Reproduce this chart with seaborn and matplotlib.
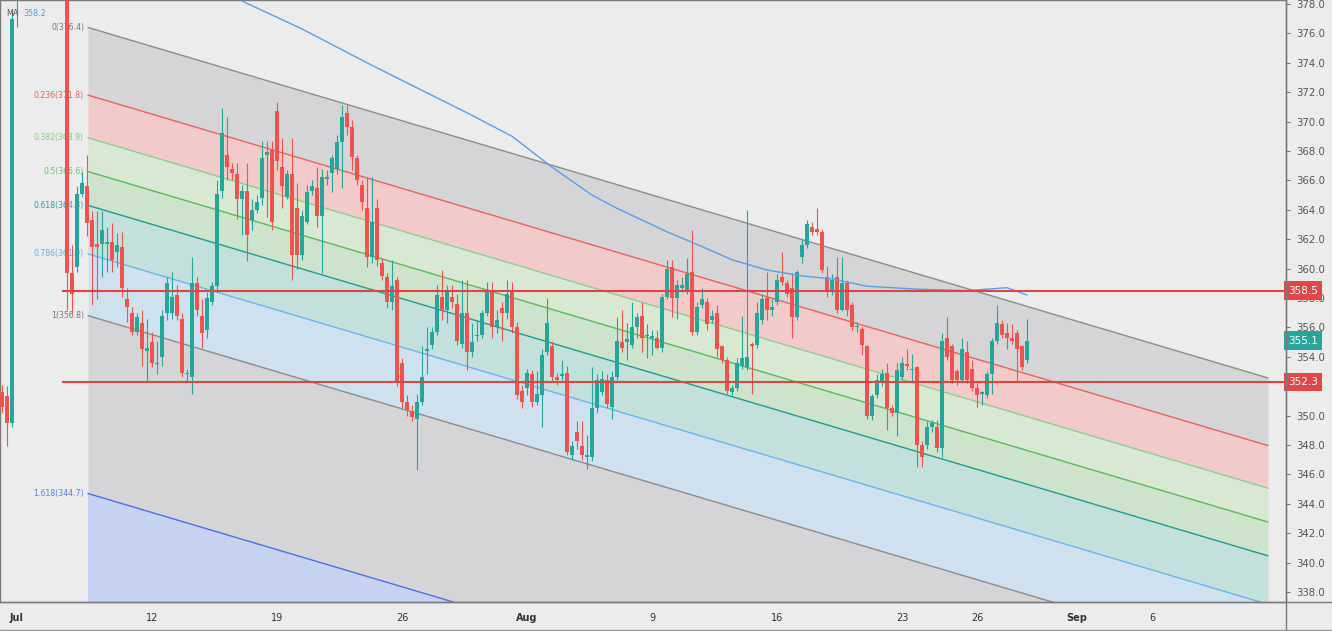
import numpy as np
import pandas as pd
import seaborn as sns
import matplotlib.pyplot as plt
from matplotlib.lines import Line2D
from matplotlib.transforms import blended_transform_factory

# ---- values ----
# bar index: 5 bars per trading day, bar 0 = first bar after the gap
pre_idx = [-13, -12, -11, -10]
pre_open = [351.6, 351.3, 349.5, 379.0]
pre_high = [352.1, 352.0, 377.5, 382.0]
pre_low = [350.2, 347.9, 349.2, 376.4]
pre_close = [350.6, 349.5, 377.0, 381.0]

bar_open = [
    379.6, 359.7, 360.1, 365.1, 365.6, 363.3, 361.7, 361.7, 361.7, 361.8,
    361.1, 361.5, 357.9, 357.0, 355.7, 356.3, 354.4, 355.0, 353.5, 354.0,
    357.0, 357.0, 358.2, 356.6, 352.8, 352.6, 359.0, 356.8, 355.8, 357.7,
    358.8, 365.3, 367.7, 366.8, 366.4, 364.7, 365.3, 363.3, 364.0, 364.8,
    367.7, 368.1, 370.7, 366.9, 364.9, 366.4, 364.1, 360.9, 363.2, 365.3,
    365.5, 363.6, 366.1, 366.5, 366.8, 368.6, 370.6, 369.6, 367.5, 365.7,
    364.1, 360.8, 364.1, 360.4, 359.4, 357.7, 359.2, 353.6, 350.9, 350.3,
    349.8, 350.9, 354.4, 354.8, 355.7, 358.1, 357.2, 358.1, 357.6, 354.9,
    357.0, 354.3, 355.4, 355.5, 357.0, 358.5, 356.0, 357.3, 357.0, 358.4,
    356.0, 351.7, 351.9, 352.8, 350.9, 351.4, 354.3, 354.7, 352.6, 352.7,
    352.9, 347.3, 348.9, 347.9, 347.2, 347.2, 350.5, 351.6, 352.4, 350.6,
    352.6, 355.0, 355.0, 354.8, 356.0, 356.8, 355.4, 355.3, 355.3, 354.6,
    358.1, 360.1, 358.0, 358.7, 358.5, 359.8, 355.7, 357.5, 357.7, 356.5,
    357.0, 354.7, 353.8, 351.6, 351.9, 353.4, 353.3, 354.9, 354.8, 356.5,
    358.0, 357.2, 357.7, 359.4, 359.0, 358.7, 356.7, 360.8, 361.6, 362.8,
    362.7, 362.5, 359.4, 358.4, 359.4, 357.2, 359.0, 357.5, 356.0, 355.9,
    354.7, 350.0, 351.4, 352.2, 352.9, 350.5, 350.2, 352.6, 353.5, 353.1,
    353.3, 348.0, 348.0, 349.2, 349.2, 347.8, 355.3, 354.7, 353.0, 352.4,
    354.3, 353.2, 351.9, 351.5, 351.4, 352.8, 355.1, 356.2, 355.6, 355.3,
    355.6, 354.7, 353.8]
bar_high = [
    380.3, 361.6, 365.6, 366.6, 367.7, 363.9, 363.9, 363.9, 362.8, 363.1,
    362.4, 362.5, 358.7, 357.4, 357.0, 357.2, 356.6, 355.7, 355.1, 357.2,
    359.4, 359.8, 358.9, 357.0, 353.2, 360.8, 359.4, 357.9, 358.4, 359.1,
    366.0, 370.9, 370.3, 367.2, 367.2, 365.7, 367.2, 364.7, 365.0, 368.7,
    368.7, 368.7, 371.3, 368.9, 366.7, 368.9, 365.8, 364.0, 365.7, 366.0,
    366.9, 366.8, 366.7, 367.7, 369.1, 371.1, 371.1, 370.1, 367.7, 366.0,
    366.2, 366.2, 364.7, 360.7, 359.7, 360.6, 359.4, 353.9, 351.4, 350.7,
    351.5, 354.7, 356.0, 356.0, 358.9, 359.9, 358.9, 358.9, 358.3, 359.2,
    359.2, 356.3, 356.5, 357.2, 359.1, 359.1, 357.2, 357.7, 359.2, 359.1,
    356.4, 352.1, 353.2, 353.1, 353.0, 354.5, 358.0, 355.1, 352.9, 353.8,
    353.4, 348.3, 349.6, 349.6, 348.7, 353.3, 352.8, 353.0, 352.8, 353.0,
    356.7, 357.2, 356.3, 357.7, 357.0, 357.7, 356.2, 355.8, 355.8, 358.3,
    360.6, 360.6, 359.2, 359.4, 360.7, 362.6, 357.7, 358.7, 358.0, 357.2,
    357.5, 354.8, 354.0, 352.1, 353.9, 356.8, 364.0, 355.0, 357.7, 358.2,
    359.8, 357.9, 359.6, 361.1, 359.2, 359.7, 359.9, 362.0, 363.3, 363.2,
    364.1, 362.6, 360.2, 359.6, 360.8, 360.8, 359.2, 357.7, 356.4, 356.0,
    354.8, 351.5, 352.8, 353.2, 353.6, 350.7, 353.6, 354.0, 354.5, 354.2,
    353.4, 348.3, 349.6, 349.7, 349.7, 355.6, 356.7, 354.9, 353.2, 355.3,
    355.1, 353.8, 352.2, 351.7, 353.0, 355.3, 357.5, 356.5, 356.3, 356.2,
    355.8, 354.8, 356.6]
bar_low = [
    357.2, 357.0, 359.8, 364.9, 362.2, 357.5, 357.9, 359.4, 359.8, 359.8,
    360.1, 358.1, 356.4, 355.5, 355.5, 353.4, 352.3, 353.3, 352.8, 353.4,
    356.5, 356.6, 356.5, 352.6, 352.3, 351.5, 356.8, 354.6, 355.3, 357.5,
    358.4, 364.8, 366.0, 366.0, 363.4, 362.3, 360.5, 362.6, 363.8, 364.3,
    363.5, 362.6, 366.7, 364.1, 364.7, 359.2, 360.0, 360.6, 363.0, 365.0,
    362.8, 359.7, 365.7, 365.2, 366.4, 365.5, 369.1, 366.7, 365.7, 364.0,
    360.1, 360.4, 360.2, 359.2, 357.3, 357.2, 352.0, 350.5, 350.0, 349.6,
    346.3, 350.7, 352.8, 354.5, 355.5, 356.5, 356.3, 357.3, 354.8, 354.6,
    353.1, 354.0, 355.1, 355.3, 356.8, 355.3, 355.6, 355.1, 356.6, 355.6,
    351.1, 350.5, 351.4, 350.6, 350.7, 349.2, 354.1, 352.3, 352.1, 352.4,
    347.3, 347.0, 347.7, 347.0, 346.4, 346.9, 350.2, 351.4, 350.5, 349.8,
    352.4, 354.3, 353.8, 354.6, 355.3, 354.3, 353.9, 354.1, 354.5, 354.3,
    357.9, 356.7, 356.6, 358.4, 358.3, 355.5, 355.5, 357.3, 355.8, 356.3,
    354.0, 353.6, 351.5, 351.4, 351.7, 353.2, 353.1, 351.5, 354.6, 356.2,
    356.5, 356.8, 357.5, 358.9, 358.1, 355.3, 356.5, 360.4, 361.4, 362.3,
    362.3, 359.7, 358.1, 358.2, 357.0, 357.1, 356.8, 355.8, 355.7, 354.1,
    349.8, 349.7, 351.2, 352.0, 349.0, 350.0, 348.6, 352.4, 353.1, 352.3,
    346.5, 346.5, 347.7, 348.9, 347.5, 347.2, 353.8, 352.2, 352.1, 352.2,
    352.2, 351.7, 350.6, 350.7, 351.2, 351.5, 354.9, 355.3, 354.5, 354.9,
    352.3, 353.1, 353.6]
bar_close = [
    359.7, 358.3, 365.1, 365.8, 363.1, 361.5, 361.5, 362.6, 361.8, 360.6,
    361.6, 358.7, 357.4, 355.7, 356.7, 354.5, 354.6, 353.6, 353.6, 356.8,
    359.0, 358.1, 356.8, 352.9, 352.9, 359.0, 357.2, 355.6, 358.0, 358.8,
    365.1, 369.2, 366.9, 366.5, 364.7, 365.3, 362.3, 364.0, 364.5, 367.5,
    367.9, 363.2, 367.3, 365.6, 366.4, 360.9, 360.9, 363.6, 365.2, 365.6,
    363.6, 366.2, 366.2, 367.5, 368.6, 370.3, 369.6, 367.6, 366.0, 364.5,
    360.8, 363.2, 360.6, 359.5, 357.7, 358.8, 352.3, 350.9, 350.4, 349.9,
    350.9, 352.6, 354.5, 355.7, 358.2, 357.2, 358.4, 357.7, 355.1, 357.0,
    354.3, 355.0, 355.5, 357.0, 358.5, 356.0, 356.5, 357.0, 358.3, 356.0,
    351.4, 350.9, 352.9, 350.9, 351.5, 354.1, 356.3, 352.6, 352.4, 352.8,
    347.5, 347.9, 348.3, 347.3, 347.3, 350.5, 352.4, 352.5, 350.8, 352.6,
    355.1, 354.6, 355.2, 356.0, 356.7, 355.3, 355.5, 355.4, 354.6, 358.1,
    360.0, 358.0, 358.9, 358.9, 359.6, 355.7, 357.4, 357.9, 356.2, 356.8,
    354.5, 353.8, 351.7, 351.9, 353.6, 353.9, 354.0, 354.7, 357.0, 357.9,
    357.2, 357.4, 359.2, 359.1, 358.3, 356.7, 359.8, 361.6, 363.0, 362.5,
    362.5, 359.9, 358.5, 359.2, 357.2, 359.0, 357.2, 356.0, 356.1, 354.8,
    350.0, 351.3, 352.4, 352.8, 350.5, 350.2, 353.1, 353.6, 353.4, 353.2,
    348.0, 347.2, 349.2, 349.5, 347.8, 355.1, 354.0, 352.4, 352.4, 354.5,
    352.4, 351.9, 351.4, 351.6, 352.8, 355.1, 356.3, 355.5, 355.3, 355.1,
    354.5, 353.3, 355.1]

# moving average, read at a few bars
ma_idx = [35, 47, 60, 67, 80, 89, 97, 105, 110, 120, 127, 133, 140, 147,
          153, 160, 170, 180, 188, 192]
ma_val = [378.2, 376.3, 374.0, 372.8, 370.6, 369.0, 366.9, 365.0, 364.1, 362.5,
          361.5, 360.6, 359.9, 359.5, 359.3, 358.8, 358.6, 358.5, 358.7, 358.2]

# fib channel: level values at the channel start
fib_names = ['0', '0.236', '0.382', '0.5', '0.618', '0.786', '1', '1.618']
fib_start = [376.4, 371.8, 368.9, 366.6, 364.3, 361.0, 356.8, 344.7]
chan_x = [4.2, 240.2]
chan_drop = 23.84

hlines = [358.5, 352.3]
last_price = 355.1

tick_pos = [-10, 17, 42, 67, 92, 117, 142, 167, 182, 202, 217]
tick_lab = ['Jul', '12', '19', '26', 'Aug', '9', '16', '23', '26', 'Sep', '6']

# ---- styling ----
bg = '#ececec'
up, down = '#26a69a', '#ef5350'
line_cols = ['#8c8c8c', '#e8615f', '#8fcf8c', '#5cb85c', '#1f9c8a', '#6cb4ee', '#8c8c8c', '#4b6fe8']
label_cols = ['#777777', '#e06060', '#86c986', '#6bbf6b', '#26a69a', '#6aaee8', '#777777', '#5a7be8']
band_cols = ['#d5d5d8', '#f2caca', '#d8e8d3', '#cde3cb', '#c4e0dc', '#cfe0ef', '#d5d5d8', '#c5d2f2']

sns.set_theme(style='white', rc={'axes.facecolor': bg, 'figure.facecolor': bg})
plt.rcParams['font.family'] = ['DejaVu Sans']

df = pd.DataFrame({
    'bar': pre_idx + list(range(len(bar_open))),
    'open': pre_open + bar_open,
    'high': pre_high + bar_high,
    'low': pre_low + bar_low,
    'close': pre_close + bar_close,
})
df['color'] = np.where(df['close'] >= df['open'], up, down)

fig = plt.figure(figsize=(13.32, 6.31), dpi=100)
ax = fig.add_axes([0, 29 / 631, 1286 / 1332, 602 / 631])

# fib channel
cx = np.array(chan_x)
lines = [np.array([s, s - chan_drop]) for s in fib_start]
for k in range(len(lines)):
    lower = lines[k + 1] if k + 1 < len(lines) else lines[k] - 20
    ax.fill_between(cx, lines[k], lower, color=band_cols[k], lw=0, zorder=1)
for k, ln in enumerate(lines):
    ax.plot(cx, ln, color=line_cols[k], lw=1, zorder=1.5)
    ax.text(cx[0] - 0.8, fib_start[k], f'{fib_names[k]}({fib_start[k]:.1f})',
            color=label_cols[k], fontsize=5.6, ha='right', va='center', zorder=2)

# candles
ax.vlines(df['bar'], df['low'], df['high'], colors=df['color'], lw=0.8, zorder=3)
body = (df['close'] - df['open']).where((df['close'] - df['open']).abs() > 0.1, 0.1)
ax.bar(df['bar'], body, bottom=df['open'], width=0.75, color=df['color'], lw=0, zorder=3)

# moving average
sns.lineplot(x=ma_idx, y=ma_val, ax=ax, color='#5a9fe6', lw=1, zorder=3.5)

# support / resistance
ax.hlines(hlines, -1, 250, colors='#d94646', lw=1.5, zorder=4)

ax.set_xlim(-13.4, 243.8)
ax.set_ylim(337.32, 378.27)

ax.yaxis.tick_right()
yt = np.arange(338, 379, 2)
ax.set_yticks(yt)
# the 352.0 label sits under the 352.3 price tag
ax.set_yticklabels(['' if v == 352 else f'{v:.1f}' for v in yt])
ax.tick_params(axis='y', direction='out', length=3, width=0.8, color='#777777',
               labelsize=7.3, labelcolor='#555555', pad=4)
ax.set_xticks(tick_pos)
ax.set_xticklabels(tick_lab)
for t in ax.get_xticklabels():
    if t.get_text() in ('Jul', 'Aug', 'Sep'):
        t.set_fontweight('bold')
ax.tick_params(axis='x', direction='out', length=3, width=0.8, color='#777777',
               labelsize=7, labelcolor='#333333', pad=5)
for s in ax.spines.values():
    s.set_color('#7a7a7a')
    s.set_linewidth(1)
ax.grid(False)

# price tags on the axis
tr = blended_transform_factory(ax.transAxes, ax.transData)
for v, c in [(hlines[0], '#e04848'), (last_price, up), (hlines[1], '#e04848')]:
    ax.text(1.0016, v, f'{v:.1f}', transform=tr, color='white', fontsize=7.5,
            ha='left', va='center', clip_on=False, zorder=6,
            bbox=dict(boxstyle='square,pad=0.4', fc=c, ec='none'))

# MA legend text
ax.text(0.005, 0.985, 'MA', transform=ax.transAxes, color='#555555', fontsize=5.8,
        ha='left', va='top', zorder=6)
ax.text(0.018, 0.985, f'{ma_val[-1]:.1f}', transform=ax.transAxes, color='#4f9be8',
        fontsize=5.8, ha='left', va='top', zorder=6)

# frame lines outside the plot
fig.add_artist(Line2D([1286 / 1332, 1286 / 1332], [0, 1], color='#7a7a7a', lw=1))
fig.add_artist(Line2D([0, 1], [29 / 631, 29 / 631], color='#7a7a7a', lw=1))
fig.add_artist(Line2D([0, 1], [1.5 / 631, 1.5 / 631], color='#9a9a9a', lw=1))

fig.savefig('out.png', dpi=100, facecolor=bg)
